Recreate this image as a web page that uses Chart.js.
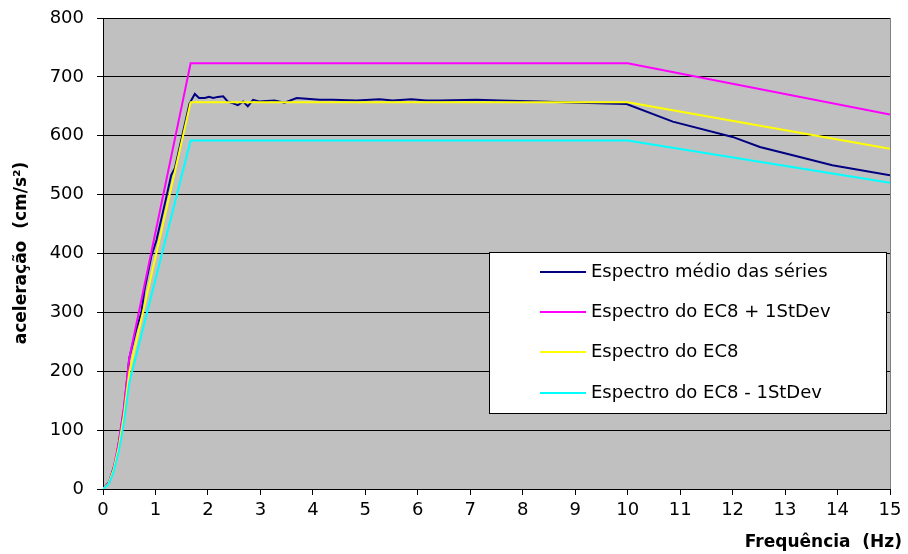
<!DOCTYPE html>
<html>
<head>
<meta charset="utf-8">
<script src="https://cdn.jsdelivr.net/npm/chart.js@4.4.0/dist/chart.umd.min.js"></script>
<style>
  html, body { margin: 0; padding: 0; background: #fff; }
  #wrap { width: 908px; height: 554px; }
</style>
</head>
<body>
<div id="wrap"><canvas id="spectrumCanvas" width="908" height="554"></canvas></div>
<script>
// mean spectrum of the series
const freqMean = [0, 0.12, 0.25, 0.4, 0.5, 0.63, 0.73, 0.79, 0.92, 1.02, 1.21, 1.30, 1.37, 1.52, 1.65, 1.75, 1.83, 1.94, 2.02, 2.10,
    2.19, 2.29, 2.38, 2.48, 2.57, 2.67, 2.76, 2.86, 2.99, 3.11, 3.27, 3.46, 3.69, 3.88, 4.13, 4.38, 4.83, 5.27, 5.52, 5.88,
    6.16, 6.42, 7.12, 7.56, 8.3, 9.08, 9.98, 10.86, 12.0, 12.52, 13.28, 13.9, 15.0];
const accMean = [0, 12, 50, 135, 222, 270, 299, 338, 395, 423, 497, 533, 545, 604, 655, 671, 664, 664, 666, 664,
    666, 667, 658, 655, 652, 658, 650, 661, 658, 659, 660, 656, 664, 663, 661, 661, 660, 662, 660, 662,
    660, 660, 661, 660, 658, 656, 654, 624, 598, 581, 564, 550, 533];

// EC8 spectra
const freqEC8 = [0, 0.1, 0.2, 0.3, 0.4, 0.5, 1.67, 10, 15];
const accEC8Plus = [0, 9, 35, 79, 140, 222, 723, 723, 636];
const accEC8 = [0, 8, 32, 71, 126, 198, 657, 657, 578];
const accEC8Minus = [0, 7, 28, 64, 114, 180, 592, 592, 520];

const seriesLabels = ['Espectro médio das séries', 'Espectro do EC8 + 1StDev', 'Espectro do EC8', 'Espectro do EC8 - 1StDev'];
const seriesColors = ['#000080', '#ff00ff', '#ffff00', '#00ffff'];

const xTitle = 'Frequência  (Hz)';
const yTitle = 'aceleração  (cm/s²)';

function points(xs, ys) {
    return xs.map((x, i) => ({ x: x, y: ys[i] }));
}

const excelLook = {
    id: 'excelLook',
    beforeDraw(chart) {
        const { ctx, chartArea: a } = chart;
        ctx.save();
        ctx.fillStyle = '#c0c0c0';
        ctx.fillRect(a.left, a.top, a.right - a.left, a.bottom - a.top);
        ctx.restore();
    },
    afterDraw(chart) {
        const { ctx, chartArea: a } = chart;
        ctx.save();
        // right border of the plot
        ctx.strokeStyle = '#808080';
        ctx.lineWidth = 1;
        ctx.beginPath();
        ctx.moveTo(a.right + 0.5, a.top);
        ctx.lineTo(a.right + 0.5, a.bottom);
        ctx.stroke();

        // legend box
        ctx.fillStyle = '#fff';
        ctx.fillRect(489, 252, 398, 162);
        ctx.strokeStyle = '#000';
        ctx.strokeRect(489.5, 252.5, 397, 161);
        const rows = [272, 312, 352, 393];
        ctx.font = '18px "DejaVu Sans"';
        ctx.textBaseline = 'middle';
        ctx.textAlign = 'left';
        chart.data.datasets.forEach((ds, i) => {
            ctx.strokeStyle = ds.borderColor;
            ctx.lineWidth = 2;
            ctx.beginPath();
            ctx.moveTo(540, rows[i]);
            ctx.lineTo(586, rows[i]);
            ctx.stroke();
            ctx.fillStyle = '#000';
            ctx.fillText(ds.label, 591, rows[i]);
        });

        // axis titles
        ctx.font = 'bold 17px "DejaVu Sans"';
        ctx.fillStyle = '#000';
        ctx.textAlign = 'right';
        ctx.fillText(xTitle, 902, 543);
        ctx.translate(22, 253);
        ctx.rotate(-Math.PI / 2);
        ctx.textAlign = 'center';
        ctx.fillText(yTitle, 0, 0);
        ctx.restore();
    }
};

const ctx = document.getElementById('spectrumCanvas').getContext('2d');

new Chart(ctx, {
    type: 'line',
    data: {
        datasets: [
            { label: seriesLabels[0], data: points(freqMean, accMean), borderColor: seriesColors[0], order: 4 },
            { label: seriesLabels[1], data: points(freqEC8, accEC8Plus), borderColor: seriesColors[1], order: 3 },
            { label: seriesLabels[2], data: points(freqEC8, accEC8), borderColor: seriesColors[2], order: 2 },
            { label: seriesLabels[3], data: points(freqEC8, accEC8Minus), borderColor: seriesColors[3], order: 1 }
        ]
    },
    options: {
        responsive: false,
        animation: false,
        layout: { padding: { left: 0, top: 18, right: 18, bottom: 0 } },
        elements: {
            point: { radius: 0 },
            line: { borderWidth: 2, tension: 0, fill: false }
        },
        plugins: {
            legend: { display: false },
            tooltip: { enabled: false }
        },
        scales: {
            x: {
                type: 'linear',
                min: 0,
                max: 15,
                afterFit: s => { s.height = 65; s.paddingLeft = 0; s.paddingRight = 0; },
                ticks: { stepSize: 1, color: '#000', padding: 5, font: { family: 'DejaVu Sans', size: 18 } },
                grid: { drawOnChartArea: false, drawTicks: true, tickLength: 6, color: '#000' },
                border: { color: '#000' }
            },
            y: {
                min: 0,
                max: 800,
                afterFit: s => { s.width = 103; s.paddingTop = 0; s.paddingBottom = 0; },
                ticks: { stepSize: 100, color: '#000', padding: 13, font: { family: 'DejaVu Sans', size: 18 } },
                grid: { color: '#000', tickLength: 6 },
                border: { color: '#000' }
            }
        }
    },
    plugins: [excelLook]
});
</script>
</body>
</html>
